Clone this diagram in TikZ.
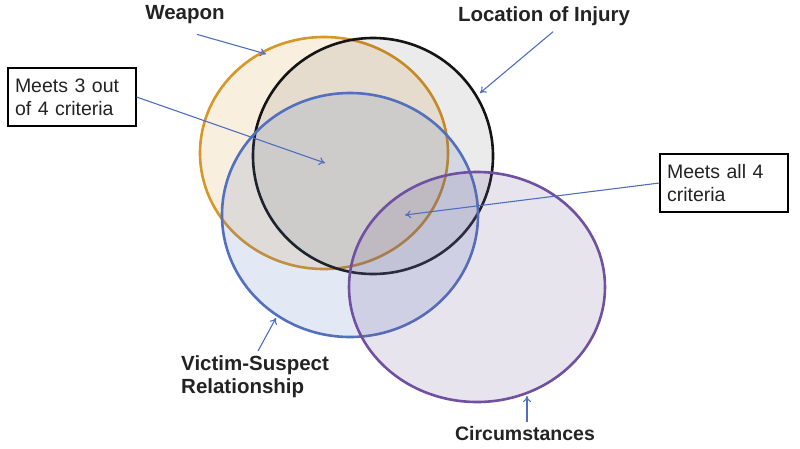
\documentclass[tikz,border=0pt]{standalone}
\usepackage{fontspec}
\setmainfont{Liberation Sans}
\usetikzlibrary{arrows.meta,shapes.geometric}

\definecolor{weaponc}{RGB}{214,150,40}
\definecolor{locc}{RGB}{20,20,20}
\definecolor{victimc}{RGB}{82,112,190}
\definecolor{circc}{RGB}{112,80,160}
\definecolor{arrowc}{RGB}{80,110,190}
\definecolor{textc}{RGB}{35,35,35}

\begin{document}
\begin{tikzpicture}[
    x=1pt, y=-1pt,
    set/.style={ellipse, line width=2.6pt, inner sep=0pt, draw opacity=1},
    lbl/.style={font=\fontsize{20.5}{23}\selectfont\bfseries, text=textc, inner sep=1pt},
    infobox/.style={draw, line width=1.2pt, align=left, text width=114pt, inner xsep=7pt,
        minimum height=58pt, text=textc, font=\fontsize{19.5}{23}\selectfont},
    pointer/.style={-{To[length=6pt,width=8pt]}, draw=arrowc, line width=1.1pt}
]
    \useasboundingbox (0,0) rectangle (800,448);

    % --- Sets ---
    \node[set, draw=weaponc, fill=weaponc, fill opacity=0.15,
        minimum width=248pt, minimum height=232pt] (weaponset) at (324,153) {};
    \node[set, draw=locc, fill=black, fill opacity=0.08,
        minimum width=240pt, minimum height=236pt] (locset) at (373,156) {};
    \node[set, draw=victimc, fill=victimc, fill opacity=0.16,
        minimum width=256pt, minimum height=244pt] (victimset) at (350,215) {};
    \node[set, draw=circc, fill=circc!70!gray, fill opacity=0.17,
        minimum width=256pt, minimum height=230pt] (circset) at (477,287) {};

    % --- Labels ---
    \node[lbl] (weapon) at (185,15) {Weapon};
    \node[lbl] (location) at (544,16) {Location of Injury};
    \node[lbl, align=left, anchor=north west] (victim) at (180,354) {Victim-Suspect\\Relationship};
    \node[lbl, font=\fontsize{19.5}{23}\selectfont\bfseries] (circ) at (525,434) {Circumstances};

    \node[infobox] (three) at (72,97) {Meets 3 out\\of 4 criteria};
    \node[infobox] (all) at (724,183) {Meets all 4\\criteria};

    % --- Arrow tips ---
    \coordinate (weapontip) at (266,54);
    \coordinate (loctip) at (480,93);
    \coordinate (victimtip) at (276,318);
    \coordinate (circtip) at (527,396);
    \coordinate (threetip) at (325,163);
    \coordinate (alltip) at (405,215);

    \draw[pointer] ([xshift=12pt,yshift=-9pt]weapon.south) -- (weapontip);
    \draw[pointer] ([xshift=9pt,yshift=-5pt]location.south) -- (loctip);
    \draw[pointer] ([xshift=78pt,yshift=3pt]victim.north west) -- (victimtip);
    \draw[pointer] ([xshift=2pt,yshift=4pt]circ.north) -- (circtip);
    \draw[pointer] (three.east) -- (threetip);
    \draw[pointer] (all.west) -- (alltip);

\end{tikzpicture}
\end{document}
